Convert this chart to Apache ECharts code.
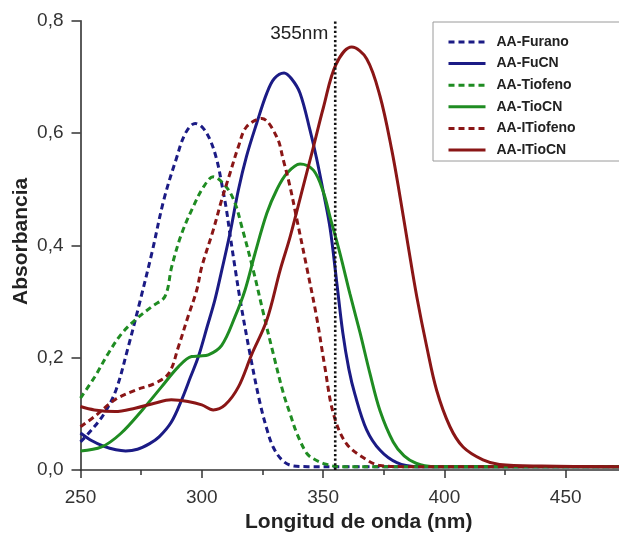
<!DOCTYPE html>
<html>
<head>
<meta charset="utf-8">
<script src="https://cdn.jsdelivr.net/npm/echarts@6/dist/echarts.min.js"></script>
<style>
html,body{margin:0;padding:0;background:#fff;}
#c{width:619px;height:534px;}
</style>
</head>
<body>
<div id="c"></div>
<script>
// ---- data (wavelength nm, absorbance) ----
const seriesNames = ['AA-Furano', 'AA-FuCN', 'AA-Tiofeno', 'AA-TioCN', 'AA-ITiofeno', 'AA-ITioCN'];

const furanoX = [250, 254.7, 259.7, 264.6, 269.6, 274.5, 279.5, 284.4, 289.4, 293.3, 297.3, 300.3, 303.4, 306.2, 308.2, 310.1, 311.6, 313.7, 315.8, 319.8, 324.0, 327.0, 329.4, 333.0, 336.9, 343.8, 360, 400, 450, 500];
const furanoY = [0.050, 0.072, 0.100, 0.142, 0.218, 0.300, 0.388, 0.482, 0.553, 0.600, 0.617, 0.610, 0.588, 0.552, 0.510, 0.465, 0.420, 0.360, 0.303, 0.208, 0.119, 0.070, 0.041, 0.018, 0.008, 0.006, 0.006, 0.006, 0.006, 0.006];

const fucnX = [250, 254.7, 259.7, 264.6, 268.6, 273.5, 278.5, 282.4, 287.4, 291.7, 295.3, 298.6, 302.2, 305.4, 308.2, 311.6, 315.1, 318.4, 322.6, 326.8, 329.9, 333.9, 336.9, 340.5, 344.6, 347.3, 350.1, 352.9, 355.6, 358.1, 360.6, 363.1, 367.9, 373.5, 380.4, 388.3, 400, 450, 500];
const fucnY = [0.066, 0.052, 0.042, 0.036, 0.034, 0.037, 0.047, 0.059, 0.085, 0.125, 0.165, 0.202, 0.255, 0.303, 0.355, 0.421, 0.499, 0.558, 0.617, 0.671, 0.697, 0.707, 0.697, 0.671, 0.605, 0.555, 0.495, 0.430, 0.335, 0.245, 0.180, 0.135, 0.072, 0.035, 0.013, 0.006, 0.006, 0.006, 0.006];

const tiofenoX = [250, 255.9, 261.5, 267.0, 272.5, 279.4, 284.8, 287.6, 291.7, 296.5, 300.7, 304.7, 310.1, 313.7, 316.5, 321.2, 325.4, 329.4, 333.6, 336.4, 339.2, 343.2, 346.0, 350.7, 356.6, 400, 450, 500];
const tiofenoY = [0.128, 0.166, 0.208, 0.243, 0.267, 0.291, 0.309, 0.362, 0.421, 0.469, 0.504, 0.522, 0.504, 0.475, 0.433, 0.356, 0.279, 0.208, 0.137, 0.100, 0.065, 0.030, 0.020, 0.011, 0.006, 0.006, 0.006, 0.006];

const tiocnX = [250, 258.7, 266.6, 275.5, 283.4, 290.4, 295.8, 299.3, 302.7, 308.2, 313.7, 317.8, 321.9, 326.8, 330.9, 335.0, 340.5, 346.0, 350.1, 352.9, 357.0, 361.1, 365.2, 369.3, 373.5, 378.9, 383.4, 388.3, 395.2, 450, 500];
const tiocnY = [0.034, 0.041, 0.065, 0.107, 0.148, 0.184, 0.202, 0.203, 0.205, 0.222, 0.273, 0.320, 0.385, 0.457, 0.499, 0.528, 0.545, 0.534, 0.495, 0.450, 0.385, 0.313, 0.245, 0.172, 0.105, 0.050, 0.025, 0.012, 0.006, 0.006, 0.006];

const itiofenoX = [250, 255.7, 264.2, 272.5, 280.5, 286.4, 290.4, 294.3, 297.9, 300.0, 304.7, 308.2, 311.6, 315.1, 318.4, 324.7, 330.9, 333.6, 336.4, 339.1, 343.2, 347.3, 350.7, 354.2, 359.6, 368.0, 373.4, 383, 450, 500];
const itiofenoY = [0.077, 0.095, 0.125, 0.142, 0.154, 0.172, 0.220, 0.273, 0.320, 0.362, 0.427, 0.481, 0.528, 0.576, 0.611, 0.626, 0.593, 0.552, 0.504, 0.448, 0.362, 0.273, 0.184, 0.101, 0.047, 0.018, 0.008, 0.006, 0.006, 0.006];

const itiocnX = [250, 255.7, 264.2, 272.5, 280.5, 287.4, 294.3, 300.0, 304.7, 309.6, 315.1, 320.5, 326.8, 332.3, 336.4, 341.8, 346.0, 350.1, 355.3, 361.8, 368.0, 373.5, 378.3, 381.7, 385.1, 388.6, 392.7, 396.8, 402.3, 407.7, 415.9, 422.7, 440, 470, 500];
const itiocnY = [0.113, 0.107, 0.104, 0.110, 0.119, 0.125, 0.122, 0.116, 0.107, 0.116, 0.148, 0.205, 0.267, 0.356, 0.415, 0.505, 0.575, 0.645, 0.722, 0.753, 0.732, 0.665, 0.570, 0.487, 0.398, 0.309, 0.220, 0.142, 0.077, 0.041, 0.018, 0.010, 0.007, 0.006, 0.006];

const markerNm = 355;
const markerLabel = '355nm';
const xTicks = [250, 300, 350, 400, 450];
const yTicks = [0, 0.2, 0.4, 0.6, 0.8];

// ---- build ----
function pairs(xs, ys) { return xs.map((x, i) => [x, ys[i]]); }
const navy = '#1b1b85', green = '#1f8c22', dred = '#8a1616';
const defs = [
  [furanoX, furanoY, navy, true],
  [fucnX, fucnY, navy, false],
  [tiofenoX, tiofenoY, green, true],
  [tiocnX, tiocnY, green, false],
  [itiofenoX, itiofenoY, dred, true],
  [itiocnX, itiocnY, dred, false]
];
const series = defs.map((d, i) => ({
  name: seriesNames[i],
  type: 'line',
  data: pairs(d[0], d[1]),
  smooth: 0.35,
  showSymbol: false,
  symbol: 'none',
  lineStyle: { color: d[2], width: 3, type: d[3] ? [6, 4] : 'solid' },
  itemStyle: { color: d[2] },
  z: 3
}));
series.push({
  name: markerLabel,
  type: 'line',
  data: [[markerNm, 0], [markerNm, yTicks[yTicks.length - 1]]],
  showSymbol: false,
  symbol: 'none',
  lineStyle: { color: '#111', width: 2.6, type: [2.2, 2.4] },
  z: 4,
  silent: true
});

const chart = echarts.init(document.getElementById('c'), null, { renderer: 'canvas' });
const font = 'Arial, "Liberation Sans", sans-serif';
chart.setOption({
  animation: false,
  backgroundColor: '#ffffff',
  textStyle: { fontFamily: font },
  grid: { left: 80.5, top: 20.7, width: 606.5, height: 449.3, containLabel: false, outerBoundsMode: 'none' },
  legend: {
    data: seriesNames,
    orient: 'vertical',
    left: 433,
    top: 22,
    itemWidth: 37,
    itemHeight: 14,
    itemGap: 7.6,
    padding: [13, 52, 4, 14],
    borderColor: '#9a9a9a',
    borderWidth: 1,
    backgroundColor: '#ffffff',
    itemStyle: { opacity: 0 },
    lineStyle: { width: 3 },
    textStyle: { fontFamily: font, fontWeight: 'bold', fontSize: 14, color: '#222', padding: [0, 0, 0, 6] }
  },
  xAxis: {
    type: 'value',
    min: 250, max: 500, interval: 50,
    name: 'Longitud de onda (nm)',
    nameLocation: 'middle',
    nameGap: 42,
    nameTextStyle: { fontFamily: font, fontWeight: 'bold', fontSize: 21, color: '#222', padding: [0, 50, 0, 0] },
    axisLine: { show: true, onZero: false, lineStyle: { color: '#333', width: 1.6 } },
    axisTick: { show: true, inside: false, length: 8, lineStyle: { color: '#333', width: 1.5 } },
    minorTick: { show: true, splitNumber: 2, length: 5, lineStyle: { color: '#333', width: 1.5 } },
    axisLabel: { fontFamily: font, fontSize: 19, color: '#333', margin: 18,
      formatter: v => (xTicks.indexOf(v) >= 0 ? String(v) : '') },
    splitLine: { show: false }
  },
  yAxis: {
    type: 'value',
    min: 0, max: 0.8, interval: 0.2,
    name: 'Absorbancia',
    nameLocation: 'middle',
    nameGap: 49,
    nameRotate: 90,
    nameMoveOverlap: false,
    nameTextStyle: { fontFamily: font, fontWeight: 'bold', fontSize: 21, color: '#222', padding: [0, 0, 0, 8] },
    axisLine: { show: true, lineStyle: { color: '#333', width: 1.6 } },
    axisTick: { show: true, inside: false, length: 9, lineStyle: { color: '#333', width: 1.5 } },
    axisLabel: { fontFamily: font, fontSize: 19, color: '#333', margin: 17,
      formatter: v => v.toFixed(1).replace('.', ',') },
    splitLine: { show: false }
  },
  series: series
});

const markerTop = chart.convertToPixel({ gridIndex: 0 }, [markerNm, yTicks[yTicks.length - 1]]);
chart.setOption({
  graphic: [{
    type: 'text',
    x: markerTop[0] - 7,
    y: markerTop[1] + 13,
    style: { text: markerLabel, fontFamily: font, fontSize: 19, fill: '#222', align: 'right', verticalAlign: 'middle' },
    z: 10
  }]
});
</script>
</body>
</html>
